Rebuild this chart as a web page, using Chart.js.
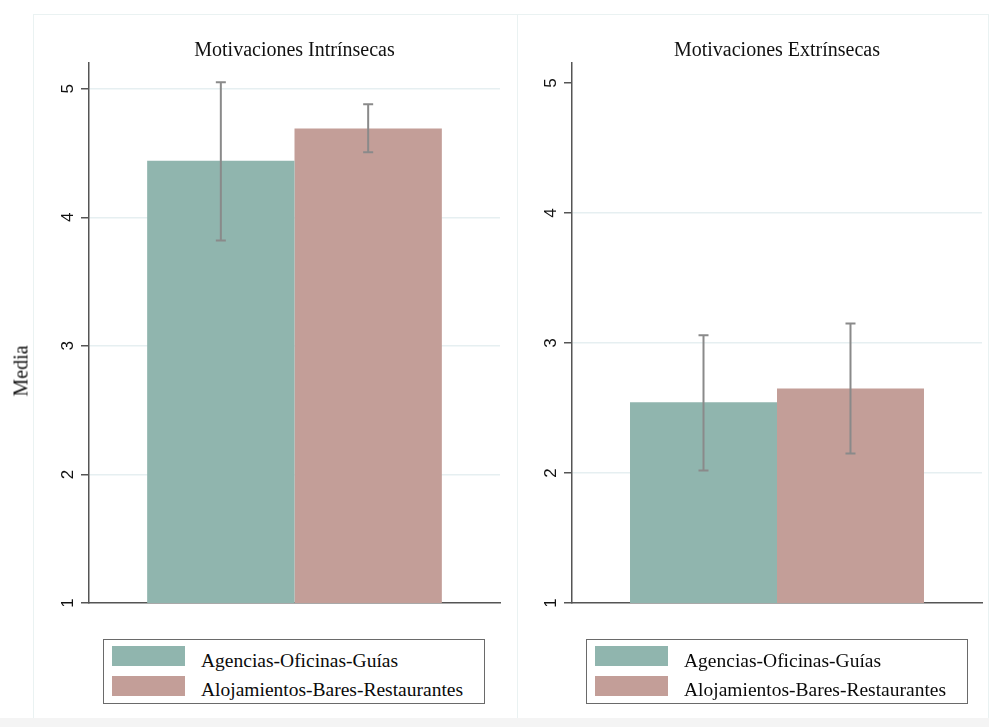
<!DOCTYPE html>
<html>
<head>
<meta charset="utf-8">
<script src="https://cdn.jsdelivr.net/npm/chart.js@4.4.1/dist/chart.umd.min.js"></script>
<style>
  body { margin: 0; background: #fff; }
  #wrap { position: relative; width: 989px; height: 727px; overflow: hidden; font-family: 'Liberation Serif', 'Times New Roman', serif; color: #111; }
  .panel { position: absolute; top: 14px; height: 730px; border: 1px solid #eaf2f2; box-sizing: border-box; }
  canvas { position: absolute; top: 0; }
  .legend { position: absolute; top: 639px; width: 382px; height: 65px; border: 1.5px solid #6a6a6a; box-sizing: border-box; background: #fff; }
  .legend .sw { position: absolute; left: 8px; width: 73px; height: 20px; }
  .legend .txt { position: absolute; left: 97px; font-size: 19.5px; line-height: 20px; white-space: nowrap; color: #0a0a0a; }
  #ytitle { position: absolute; left: 21px; top: 371px; font-size: 20px; transform: translate(-50%, -50%) rotate(-90deg); white-space: nowrap; }
  #band { position: absolute; left: 0; top: 718px; width: 989px; height: 9px; background: #f4f4f4; }
</style>
</head>
<body>
<div id="wrap">
  <div class="panel" style="left:33px; width:485px;"></div>
  <div class="panel" style="left:517px; width:472px;"></div>
  <canvas id="intr" width="517" height="727" style="left:0"></canvas>
  <canvas id="extr" width="472" height="727" style="left:517px"></canvas>
  <div id="ytitle">Media</div>
  <div id="band"></div>
</div>
<script>
// groups and colours
const groups = ['Agencias-Oficinas-Guías', 'Alojamientos-Bares-Restaurantes'];
const groupColors = ['#90b5ae', '#c39e98'];
const yTicks = [1, 2, 3, 4, 5];

// Motivaciones Intrínsecas: mean and interval bounds per group
const intrMean = [4.44, 4.69];
const intrLow = [3.82, 4.505];
const intrHigh = [5.05, 4.88];

// Motivaciones Extrínsecas
const extrMean = [2.545, 2.65];
const extrLow = [2.02, 2.15];
const extrHigh = [3.06, 3.15];

Chart.defaults.devicePixelRatio = 1;
Chart.defaults.animation = false;

const errorBars = {
  id: 'errorBars',
  afterDatasetsDraw(chart) {
    const { ctx, scales: { y } } = chart;
    ctx.save();
    ctx.strokeStyle = '#8a8a8a';
    ctx.lineWidth = 2;
    chart.data.datasets.forEach((ds, i) => {
      chart.getDatasetMeta(i).data.forEach((bar, j) => {
        const top = y.getPixelForValue(ds.errHigh[j]);
        const bot = y.getPixelForValue(ds.errLow[j]);
        ctx.beginPath();
        ctx.moveTo(bar.x, top); ctx.lineTo(bar.x, bot);
        ctx.moveTo(bar.x - 5, top); ctx.lineTo(bar.x + 5, top);
        ctx.moveTo(bar.x - 5, bot); ctx.lineTo(bar.x + 5, bot);
        ctx.stroke();
      });
    });
    ctx.restore();
  }
};

function makePanel(id, title, means, lows, highs, yMax, axisWidth, padRight, topGrid) {
  return new Chart(document.getElementById(id), {
    type: 'bar',
    data: {
      labels: [''],
      datasets: groups.map((g, i) => ({
        label: g,
        data: [means[i]],
        errLow: [lows[i]],
        errHigh: [highs[i]],
        backgroundColor: groupColors[i],
        borderWidth: 0,
        barPercentage: 1,
        categoryPercentage: 0.717
      }))
    },
    options: {
      responsive: false,
      layout: { padding: { left: 0, right: padRight, top: 0, bottom: 124 } },
      plugins: {
        legend: { display: false },
        tooltip: { enabled: false },
        title: {
          display: true,
          text: title,
          fullSize: false,
          color: '#111',
          font: { family: 'Liberation Serif', size: 20, weight: 'normal', lineHeight: 1.1 },
          padding: { top: 40, bottom: 1 }
        }
      },
      scales: {
        x: {
          grid: { display: false },
          ticks: { display: false },
          border: { color: '#555', width: 1.5 },
          afterFit: (s) => { s.height = 0; }
        },
        y: {
          min: 1,
          max: yMax,
          afterBuildTicks: (s) => { s.ticks = yTicks.map(v => ({ value: v })); },
          afterFit: (s) => { s.width = axisWidth; },
          border: { color: '#555', width: 1.5 },
          grid: {
            color: (c) => (c.tick.value === 1 || (c.tick.value === 5 && !topGrid)) ? 'rgba(0,0,0,0)' : '#e6eff1',
            lineWidth: 1.5,
            tickColor: '#555',
            tickLength: 8,
            tickWidth: 1.5
          },
          ticks: {
            color: '#111',
            font: { family: 'Liberation Sans', size: 17 },
            minRotation: 90,
            maxRotation: 90,
            crossAlign: 'center',
            padding: 8
          }
        }
      }
    },
    plugins: [errorBars]
  });
}

makePanel('intr', 'Motivaciones Intrínsecas', intrMean, intrLow, intrHigh, 5.2, 89, 17, true);
makePanel('extr', 'Motivaciones Extrínsecas', extrMean, extrLow, extrHigh, 5.155, 55, 7, false);

// legend boxes under each panel
[103, 586].forEach((left) => {
  const box = document.createElement('div');
  box.className = 'legend';
  box.style.left = left + 'px';
  groups.forEach((g, i) => {
    const sw = document.createElement('div');
    sw.className = 'sw';
    sw.style.top = (6 + i * 30) + 'px';
    sw.style.background = groupColors[i];
    const t = document.createElement('div');
    t.className = 'txt';
    t.style.top = (11 + i * 29) + 'px';
    t.textContent = g;
    box.appendChild(sw);
    box.appendChild(t);
  });
  document.getElementById('wrap').appendChild(box);
});
</script>
</body>
</html>
